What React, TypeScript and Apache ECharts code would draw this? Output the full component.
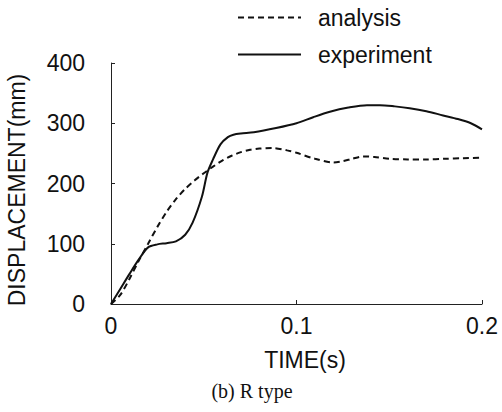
import React, { useEffect, useRef } from "react";
import * as echarts from "echarts";

const expTime = [0, 0.005, 0.010, 0.015, 0.020, 0.025, 0.030, 0.035, 0.040, 0.044, 0.049, 0.052, 0.055, 0.059, 0.063, 0.066, 0.070, 0.077, 0.089, 0.100, 0.109, 0.118, 0.128, 0.138, 0.145, 0.153, 0.161, 0.170, 0.179, 0.187, 0.194, 0.2];
const expValues = [0, 25, 50, 74, 94, 99, 101, 104, 115, 135, 178, 218, 240, 265, 277, 281, 283, 285, 292, 300, 310, 319, 326, 330, 330, 328, 325, 320, 313, 307, 300, 290];

const anaTime = [0, 0.005, 0.010, 0.015, 0.020, 0.025, 0.030, 0.035, 0.040, 0.045, 0.050, 0.055, 0.060, 0.065, 0.070, 0.075, 0.080, 0.087, 0.095, 0.100, 0.110, 0.120, 0.125, 0.130, 0.136, 0.142, 0.150, 0.160, 0.170, 0.180, 0.190, 0.2];
const anaValues = [0, 15, 42, 72, 100, 128, 153, 174, 191, 205, 217, 228, 238, 246, 252, 256, 258, 259, 255, 251, 241, 235, 237, 241, 245, 244, 241, 240, 240, 241, 242, 243];

const seriesNames = ["analysis", "experiment"];
const xTitle = "TIME(s)";
const yTitle = "DISPLACEMENT(mm)";
const caption = "(b) R type";

const SANS = "'Liberation Sans', Arial, sans-serif";
const SERIF = "'Liberation Serif', 'Times New Roman', serif";

export default function App() {
  const ref = useRef<HTMLDivElement>(null);
  useEffect(() => {
    if (!ref.current) return;
    const chart = echarts.init(ref.current, null, { renderer: "svg" });
    chart.setOption({
      animation: false,
      backgroundColor: "#fff",
      grid: { left: 111, right: 20, top: 63, bottom: 108 },
      legend: {
        orient: "vertical",
        left: 232,
        top: 1,
        itemWidth: 63,
        itemHeight: 14,
        itemGap: 14,
        data: seriesNames,
        itemStyle: { opacity: 0 },
        textStyle: { fontFamily: SANS, fontSize: 23, color: "#111", padding: [0, 0, 0, 12] },
      },
      xAxis: {
        type: "value",
        min: 0,
        max: 0.2,
        interval: 0.1,
        axisLine: { show: true, lineStyle: { color: "#222", width: 1 } },
        axisTick: { show: true, inside: true, length: 4, lineStyle: { color: "#222" } },
        splitLine: { show: false },
        axisLabel: { fontFamily: SANS, fontSize: 23, color: "#111", margin: 10 },
      },
      yAxis: {
        type: "value",
        min: 0,
        max: 400,
        interval: 100,
        axisLine: { show: true, lineStyle: { color: "#222", width: 1 } },
        axisTick: { show: true, inside: true, length: 4, lineStyle: { color: "#222" } },
        splitLine: { show: false },
        axisLabel: { fontFamily: SANS, fontSize: 23, color: "#111", margin: 26 },
      },
      graphic: [
        {
          type: "text",
          x: 305,
          y: 360,
          style: { text: xTitle, font: `23px ${SANS}`, fill: "#111", textAlign: "center", textVerticalAlign: "middle" },
        },
        {
          type: "text",
          x: 17,
          y: 190,
          rotation: Math.PI / 2,
          style: { text: yTitle, font: `23px ${SANS}`, fill: "#111", textAlign: "center", textVerticalAlign: "middle" },
        },
        {
          type: "text",
          x: 252,
          y: 391,
          style: { text: caption, font: `20px ${SERIF}`, fill: "#111", textAlign: "center", textVerticalAlign: "middle" },
        },
      ],
      series: [
        {
          name: seriesNames[0],
          type: "line",
          smooth: 0.3,
          symbol: "none",
          data: anaTime.map((t, i) => [t, anaValues[i]]),
          lineStyle: { color: "#111", width: 2, type: [6, 4] },
          itemStyle: { color: "#111" },
        },
        {
          name: seriesNames[1],
          type: "line",
          smooth: 0.3,
          symbol: "none",
          data: expTime.map((t, i) => [t, expValues[i]]),
          lineStyle: { color: "#111", width: 2, type: "solid" },
          itemStyle: { color: "#111" },
        },
      ],
    });
    return () => chart.dispose();
  }, []);
  return <div ref={ref} style={{ position: "fixed", left: 0, top: 0, width: 502, height: 412 }} />;
}
